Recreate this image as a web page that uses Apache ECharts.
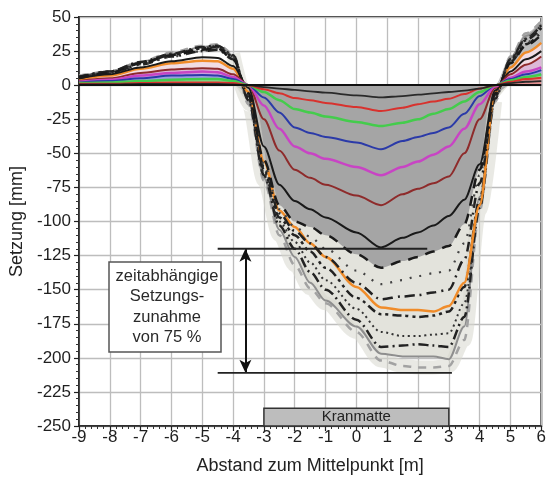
<!DOCTYPE html>
<html>
<head>
<meta charset="utf-8">
<script src="https://cdn.jsdelivr.net/npm/echarts@6/dist/echarts.min.js"></script>
<style>
html,body{margin:0;padding:0;background:#fff}
#chart{width:549px;height:480px}
</style>
</head>
<body>
<div id="chart"></div>
<script>
// Abstand zum Mittelpunkt [m]
const xPos = [-9,-8,-7,-6,-5,-4.5,-4,-3.5,-3,-2.5,-2,-1.5,-1,0,0.8,1.5,2,2.5,3,3.5,4,4.5,5,5.5,6];

// Setzung [mm] je Laststufe (farbige Linien)
const stBlackThin = [0.5,0.5,1,1,1,1,0.5,0,-1.5,-2.5,-3.5,-4.5,-5.5,-7.5,-9,-8,-7,-6,-5,-4,-2.5,0,1.5,2.5,3];
const stRed       = [1,1,1.5,2,2,2,1.5,0,-3,-6,-9.5,-11,-13,-16,-19,-16.5,-14,-12,-10,-6.5,-2.5,0,2.5,4.5,5.5];
const stGreen     = [1.5,2,3,4,4.5,4.5,3,0,-5,-11,-17.5,-20,-23,-27,-30,-27.5,-25,-21,-17.5,-12,-5,0,3.5,6,8];
const stBlue      = [2,3,5,7,7.5,7,4.5,0,-9,-20,-31,-35,-38,-42,-47,-41,-38,-35,-31,-21,-8,0,4.5,8,11];
const stMagenta   = [2.5,4,7,9,10,9.5,6,0,-15,-32,-45,-50,-54,-60,-66,-60,-56,-51,-45,-32,-14,-1,5.5,10,13];
const stBrown     = [3,5,9,11.5,12.5,12,8,0,-25,-48,-62,-68,-73,-81,-88,-80,-76,-72,-67,-50,-25,-2,8,15,21];
const stBlack     = [5,8,13,17.5,20.5,20,14,-2,-45,-73,-85,-91,-97,-108,-119,-112,-108,-103,-96,-84,-58,-4,10,19,25];

// Setzung [mm] zeitabhängig (gestrichelte / gepunktete Linien)
const tDash        = [6,9,16,22,26,27,19,-6,-55,-88,-100,-104,-110,-124,-134,-129,-126,-122,-118,-102,-62,-6,16,29,37];
const tDotSparse   = [6,9,15,21,25,27,20,-7,-58,-91,-104,-111,-120,-136,-146,-143,-140,-138,-136,-116,-66,-6,17,31,40];
const tDashDot     = [5,9,15,21,25,26,19,-8,-60,-94,-107,-116,-126,-145,-157,-155,-154,-152,-150,-128,-72,-7,17,30,39];
const tOrange      = [4,7,12,16,18,17.5,12,-5,-56,-92,-104,-116,-126,-148,-163,-165,-165,-166,-162,-145,-88,-5,13,24,31];
const tDashDotDot  = [6,10,16,22,27,28,21,-9,-62,-97,-110,-122,-134,-156,-168,-169,-170,-169,-166,-148,-84,-8,18,33,42];
const tDotDense    = [6,9,16,23,27,29,21,-10,-64,-100,-115,-130,-143,-164,-181,-184,-184,-183,-182,-160,-88,-9,19,34,44];
const tDashDotLong = [6,10,17,23,28,29,22,-11,-66,-103,-120,-137,-150,-172,-192,-191,-190,-191,-192,-170,-90,-10,19,34,44];
const tGray        = [6,10,17,23,28,29,22,-12,-68,-106,-126,-145,-158,-177,-197,-199,-199,-199,-201,-177,-82,-10,20,36,45];
const tGrayDash    = [7,10,17,24,29,30,23,-14,-70,-110,-132,-149,-160,-181,-202,-206,-207,-207,-206,-187,-92,-12,21,38,47];

// Achsenbeschriftung
const xTicks = [-9,-8,-7,-6,-5,-4,-3,-2,-1,0,1,2,3,4,5,6];
const yTicks = [50,25,0,-25,-50,-75,-100,-125,-150,-175,-200,-225,-250];

// Markierung der zeitabhängigen Setzungszunahme
const increaseTop = -120;
const increaseBottom = -211;
const increaseTopX = [-4.5, 2.3];
const increaseBottomX = [-4.5, 3.1];
const increaseArrowX = -3.6;
const increaseText = 'zeitabhängige\nSetzungs-\nzunahme\nvon 75 %';

// Kranmatte
const matX = [-3, 3];
const matY = [-250, -237];
const matLabel = 'Kranmatte';

const FONT = '"Liberation Sans", Arial, sans-serif';
const SMOOTH = 0.3;

const pts = v => xPos.map((x, i) => [x, v[i]]);
const neg = v => xPos.map((x, i) => [x, Math.min(v[i], 0)]);
const pos = v => xPos.map((x, i) => [x, Math.max(v[i], 0)]);
const rightPos = v => pos(v).filter(p => p[0] >= 4);
const troughOnly = v => pts(v).filter(p => p[0] >= -4 && p[0] <= 4.5);

function line(v, color, width, type, z) {
  return {
    type: 'line', data: pts(v), symbol: 'none', showSymbol: false,
    smooth: SMOOTH, smoothMonotone: 'x', silent: true,
    lineStyle: { color, width, type: type || 'solid', cap: 'butt' },
    z: z || 4
  };
}
function fill(data, color, z) {
  return {
    type: 'line', data, symbol: 'none', showSymbol: false,
    smooth: SMOOTH, smoothMonotone: 'x', silent: true,
    lineStyle: { width: 0 },
    areaStyle: { color, opacity: 1 },
    z: z || 1
  };
}

const series = [
  // Flächen im Setzungstrog
  fill(neg(tGray), '#e3e3dc', 1),
  fill(neg(tDash), '#a5a5a5', 1),
  // Hebungsbereiche
  fill(rightPos(tGrayDash), '#bdbdbd', 1),
  fill(pos(tOrange), '#f1dde4', 1),
  fill(pos(stBrown), '#dcb8d8', 1),
  fill(pos(stMagenta), '#c9a0dc', 1),
  fill(pos(stBlue), '#9a9ce0', 1),
  fill(pos(stGreen), '#88d88c', 1),
  fill(pos(stRed), '#e39090', 1),
  // heller Saum um die Einhüllende im Trog
  {
    type: 'line', data: troughOnly(tGrayDash), symbol: 'none', showSymbol: false,
    smooth: SMOOTH, smoothMonotone: 'x', silent: true, z: 2,
    lineStyle: { color: 'rgba(215,215,205,0.55)', width: 14 }
  },

  line(tGrayDash, '#a2a2a2', 2.5, [8, 7]),
  line(tGray, '#8e8e8e', 2),
  line(tDashDotLong, '#222', 2.5, [10, 4, 2, 4]),
  line(tDotDense, '#333', 2, [2, 3.5]),
  line(tDashDotDot, '#222', 2.5, [9, 4, 3, 4, 3, 4]),
  line(tOrange, '#f08c2a', 2.5),
  line(tDashDot, '#222', 2.5, [10, 5, 2, 5]),
  line(tDotSparse, '#444', 2.2, [2, 8]),
  line(tDash, '#1a1a1a', 2.5, [10, 8]),

  line(stBlack, '#1a1a1a', 2),
  line(stBrown, '#8e2b2b', 2),
  line(stMagenta, '#c844c4', 2.5),
  line(stBlue, '#2b3aa8', 2),
  line(stGreen, '#44cc4c', 2.5),
  line(stRed, '#d8322e', 2),
  Object.assign(line(stBlackThin, '#2a2a2a', 1.8), {
    markLine: {
      silent: true, symbol: 'none', label: { show: false },
      lineStyle: { color: '#111', width: 2, type: 'solid' },
      data: [{ yAxis: 0 }]
    }
  }),

  // Markierung Setzungszunahme
  {
    type: 'line', silent: true, symbol: 'none', z: 6,
    data: increaseTopX.map(x => [x, increaseTop]),
    lineStyle: { color: '#222', width: 1.8 }
  },
  {
    type: 'line', silent: true, symbol: 'none', z: 6,
    data: increaseBottomX.map(x => [x, increaseBottom]),
    lineStyle: { color: '#222', width: 1.8 },
    markLine: {
      silent: true, symbol: ['arrow', 'arrow'], symbolSize: [9, 13],
      label: { show: false },
      lineStyle: { color: '#111', width: 2, type: 'solid' },
      data: [[{ coord: [increaseArrowX, increaseTop] }, { coord: [increaseArrowX, increaseBottom] }]]
    }
  },
  // Kranmatte
  {
    type: 'line', silent: true, symbol: 'none', data: [], z: 7,
    markArea: {
      silent: true,
      itemStyle: { color: '#bdbdbd', borderColor: '#333', borderWidth: 1.5, opacity: 1 },
      label: { show: true, position: 'inside', color: '#222', fontSize: 15, fontFamily: FONT },
      data: [[{ name: matLabel, coord: [matX[0], matY[0]] }, { coord: [matX[1], matY[1]] }]]
    }
  }
];

const chart = echarts.init(document.getElementById('chart'), null, { renderer: 'canvas' });
chart.setOption({
  animation: false,
  backgroundColor: '#fff',
  grid: {
    left: 79, right: 6, top: 17, bottom: 54,
    show: true, borderColor: '#333', borderWidth: 2, backgroundColor: 'transparent'
  },
  xAxis: {
    type: 'value', min: xTicks[0], max: xTicks[xTicks.length - 1], interval: 1,
    name: 'Abstand zum Mittelpunkt [m]', nameLocation: 'middle', nameGap: 31,
    nameTextStyle: { fontFamily: FONT, fontSize: 18, color: '#222' },
    axisLine: { show: true, onZero: false, lineStyle: { color: '#222', width: 1.5 } },
    axisTick: { show: true, length: 5, lineStyle: { color: '#222', width: 1.2 } },
    minorTick: { show: true, splitNumber: 5, length: 3, lineStyle: { color: '#333', width: 1 } },
    axisLabel: { fontFamily: FONT, fontSize: 17, color: '#1f1f1f', margin: 3 },
    splitLine: { show: true, lineStyle: { color: '#bdbdbd', width: 1.3 } }
  },
  yAxis: {
    type: 'value', min: yTicks[yTicks.length - 1], max: yTicks[0], interval: 25,
    name: 'Setzung [mm]', nameLocation: 'middle', nameGap: 52, nameRotate: 90,
    nameTextStyle: { fontFamily: FONT, fontSize: 18, color: '#222' },
    axisLine: { show: true, onZero: false, lineStyle: { color: '#222', width: 1.5 } },
    axisTick: { show: true, length: 5, lineStyle: { color: '#222', width: 1.2 } },
    minorTick: { show: true, splitNumber: 5, length: 3, lineStyle: { color: '#333', width: 1 } },
    axisLabel: { fontFamily: FONT, fontSize: 17, color: '#1f1f1f', margin: 8 },
    splitLine: { show: true, lineStyle: { color: '#bdbdbd', width: 1.3 } }
  },
  series,
  graphic: [
    {
      type: 'rect', z: 100, silent: true,
      shape: { x: 109, y: 262, width: 112, height: 90 },
      style: { fill: '#fff', stroke: '#555', lineWidth: 1.5 }
    },
    {
      type: 'text', z: 101, silent: true, x: 167, y: 266,
      style: {
        text: increaseText, fill: '#2a2a2a', font: '16.5px ' + FONT,
        align: 'center', verticalAlign: 'top', lineHeight: 20.5
      }
    }
  ]
});
</script>
</body>
</html>
